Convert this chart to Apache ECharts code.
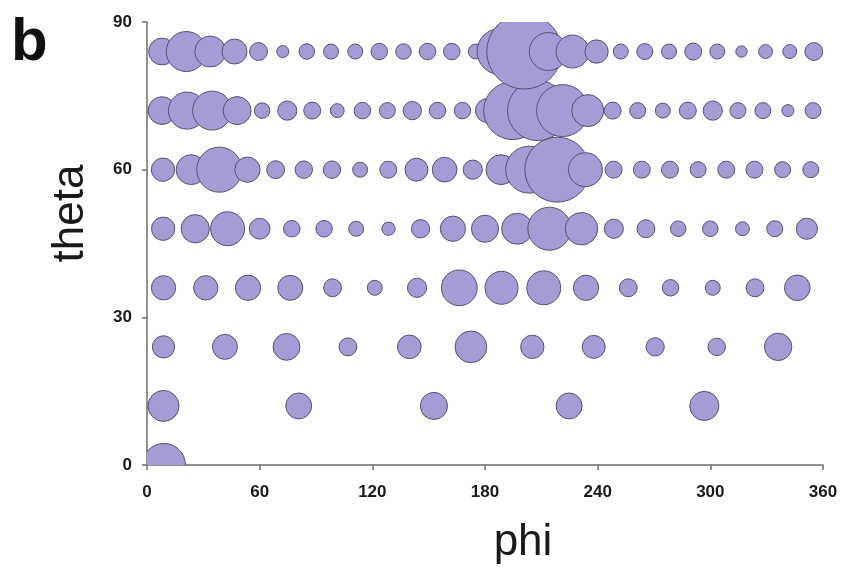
<!DOCTYPE html>
<html>
<head>
<meta charset="utf-8">
<title>theta / phi</title>
<script src="https://cdn.jsdelivr.net/npm/echarts@6/dist/echarts.min.js"></script>
<style>
  html, body { margin: 0; padding: 0; background: #fff; }
  #chart { width: 843px; height: 570px; }
</style>
</head>
<body>
<div id="chart"></div>
<script>
  // rows of the grid: theta value, phi positions and bubble weights
  const thetaRows = [0, 12, 24, 36, 48, 60, 72, 84];

  const phi0 = [9.0];
  const w0 = [116];

  const phi12 = [8.8, 80.8, 152.8, 224.8, 296.8];
  const w12 = [60, 42, 46, 42, 53];

  const phi24 = [8.8, 41.5, 74.3, 107.0, 139.7, 172.5, 205.2, 237.9, 270.6, 303.4, 336.1];
  const w24 = [31, 39, 45, 20, 35, 63, 34, 33, 21, 19, 47];

  const phi36 = [8.8, 31.3, 53.8, 76.3, 98.8, 121.3, 143.8, 166.3, 188.8, 211.3, 233.8, 256.3,
    278.8, 301.3, 323.8, 346.3];
  const w36 = [37, 37, 40, 39, 20, 14, 23, 80, 68, 72, 40, 20, 17, 14, 20, 41];

  const phi48 = [8.6, 25.7, 42.9, 60.0, 77.1, 94.3, 111.4, 128.6, 145.7, 162.9, 180.0, 197.1,
    214.3, 231.4, 248.6, 265.7, 282.9, 300.0, 317.1, 334.3, 351.4];
  const w48 = [34, 50, 72, 27, 17, 17, 14, 11, 21, 40, 46, 60, 116, 66, 23, 20, 15, 15, 12, 16, 28];

  const phi60 = [8.5, 23.5, 38.5, 53.5, 68.5, 83.5, 98.5, 113.5, 128.5, 143.5, 158.5, 173.5,
    188.5, 203.5, 218.5, 233.5, 248.5, 263.5, 278.5, 293.5, 308.5, 323.5, 338.5, 353.5];
  const w60 = [34, 56, 127, 40, 20, 19, 19, 14, 18, 33, 38, 23, 56, 138, 264, 72, 18, 18, 18, 16,
    18, 18, 16, 16];

  const phi72 = [8.0, 21.3, 34.7, 48.0, 61.3, 74.7, 88.0, 101.3, 114.7, 128.0, 141.3, 154.7,
    168.0, 181.3, 194.7, 208.0, 221.3, 234.7, 248.0, 261.3, 274.7, 288.0, 301.3, 314.7, 328.0,
    341.3, 354.7];
  const w72 = [48, 86, 95, 49, 15, 23, 18, 12, 17, 16, 21, 17, 17, 36, 210, 225, 169, 64, 18, 16,
    14, 18, 23, 16, 16, 9, 16];

  const phi84 = [8.0, 20.9, 33.7, 46.6, 59.4, 72.3, 85.1, 98.0, 110.9, 123.7, 136.6, 149.4,
    162.3, 175.1, 188.0, 200.9, 213.7, 226.6, 239.4, 252.3, 265.1, 278.0, 290.9, 303.7, 316.6,
    329.4, 342.3, 355.1];
  const w84 = [45, 100, 60, 39, 20, 9, 15, 14, 14, 17, 15, 17, 17, 14, 132, 352, 90, 68, 34, 14,
    16, 14, 18, 14, 8, 12, 12, 20];

  const phiTicks = [0, 60, 120, 180, 240, 300, 360];
  const thetaTicks = [0, 30, 60, 90];

  const phiRows = [phi0, phi12, phi24, phi36, phi48, phi60, phi72, phi84];
  const wRows = [w0, w12, w24, w36, w48, w60, w72, w84];

  const points = [];
  thetaRows.forEach((t, i) => {
    phiRows[i].forEach((p, j) => {
      points.push([p, t, wRows[i][j]]);
    });
  });

  const font = '"Liberation Sans", Arial, sans-serif';

  const chart = echarts.init(document.getElementById('chart'));

  chart.setOption({
    backgroundColor: '#fff',
    animation: false,
    grid: {
      left: 147,
      right: 20,
      top: 22,
      bottom: 105
    },
    graphic: [{
      type: 'text',
      left: 11,
      top: 13,
      style: {
        text: 'b',
        font: 'bold 60px ' + font,
        fill: '#111'
      }
    }],
    xAxis: {
      type: 'value',
      min: phiTicks[0],
      max: phiTicks[phiTicks.length - 1],
      interval: 60,
      name: 'phi',
      nameLocation: 'middle',
      nameGap: 56,
      nameTextStyle: {
        fontFamily: font,
        fontSize: 44,
        color: '#1a1a1a',
        padding: [0, 0, 0, 76]
      },
      axisLine: { lineStyle: { color: '#6e6e6e', width: 1.5 } },
      axisTick: { show: true, length: 5, lineStyle: { color: '#6e6e6e', width: 1.5 } },
      axisLabel: {
        margin: 19,
        fontFamily: font,
        fontWeight: 'bold',
        fontSize: 17,
        color: '#1a1a1a'
      },
      splitLine: { show: false }
    },
    yAxis: {
      type: 'value',
      min: thetaTicks[0],
      max: thetaTicks[thetaTicks.length - 1],
      interval: 30,
      name: 'theta',
      nameLocation: 'middle',
      nameGap: 54,
      nameTextStyle: {
        fontFamily: font,
        fontSize: 44,
        color: '#1a1a1a',
        padding: [0, 0, 0, 60]
      },
      axisLine: { show: true, lineStyle: { color: '#6e6e6e', width: 1.5 } },
      axisTick: { show: true, length: 5, lineStyle: { color: '#6e6e6e', width: 1.5 } },
      axisLabel: {
        margin: 15,
        fontFamily: font,
        fontWeight: 'bold',
        fontSize: 17,
        color: '#1a1a1a'
      },
      splitLine: { show: false }
    },
    series: [{
      type: 'custom',
      clip: true,
      data: points,
      renderItem(params, api) {
        const pt = api.coord([api.value(0), api.value(1)]);
        const r = 2 * Math.sqrt(api.value(2));
        return {
          type: 'circle',
          shape: { cx: pt[0], cy: pt[1], r: r },
          style: {
            fill: '#a39cd5',
            stroke: '#55536e',
            lineWidth: 1
          }
        };
      }
    }]
  });
</script>
</body>
</html>
